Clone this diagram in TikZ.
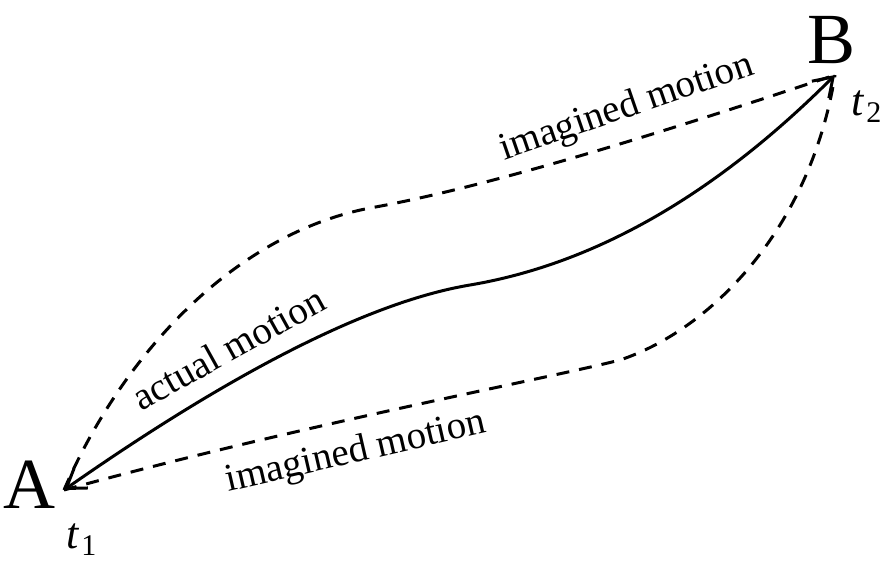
\documentclass[tikz,border=0pt]{standalone}
\usepackage{fontspec}
\setmainfont{Liberation Serif}
\usetikzlibrary{arrows.meta}
\tikzset{
  path/.style={line width=3pt},
  dpath/.style={line width=3pt, dash pattern=on 13pt off 10pt},
  lbl/.style={font=\fontsize{39}{44}\selectfont, inner sep=0pt, anchor=base},
  pt/.style={font=\fontsize{72}{80}\selectfont, inner sep=0pt, anchor=base},
  tm/.style={font=\fontsize{44}{50}\selectfont, inner sep=0pt, anchor=base west},
  tip/.style={-{Straight Barb[length=18pt,width=24pt,line width=3pt]}}
}
\newcommand{\tsub}[1]{\textit{t}\kern2pt\raisebox{-7pt}{\fontsize{30}{32}\selectfont #1}}
\begin{document}
\begin{tikzpicture}[x=1pt,y=-1pt]
\useasboundingbox (0,0) rectangle (888,563);
\coordinate (PA) at (64,490);
\coordinate (PB) at (835,75);
\coordinate (M) at (470,285);
\coordinate (U) at (370,208);
\coordinate (L) at (620,360);
\node[pt] (A) at (29,508) {A};
\node[pt] (B) at (831,63) {B};
\node[tm] (t1) at (66,548) {\tsub{1}};
\node[tm] (t2) at (851,115) {\tsub{2}};
% actual motion
\draw[path, tip] (M) .. controls (380,300) and (250,360) .. (PA);
\draw[path, tip] (M) .. controls (600,263) and (720,190) .. (PB);
% imagined motions
\draw[dpath] (PA) .. controls (120,360) and (230,235) .. (U) .. controls (500,185) and (700,120) .. (PB);
\draw[dpath] (PA) .. controls (300,425) and (550,378) .. (L) .. controls (710,330) and (810,230) .. (PB);
% labels
\node[lbl, rotate=29] (am) at (235,360) {actual motion};
\node[lbl, rotate=19] (im1) at (630,117) {imagined motion};
\node[lbl, rotate=13] (im2) at (358,462) {imagined motion};
\end{tikzpicture}
\end{document}
